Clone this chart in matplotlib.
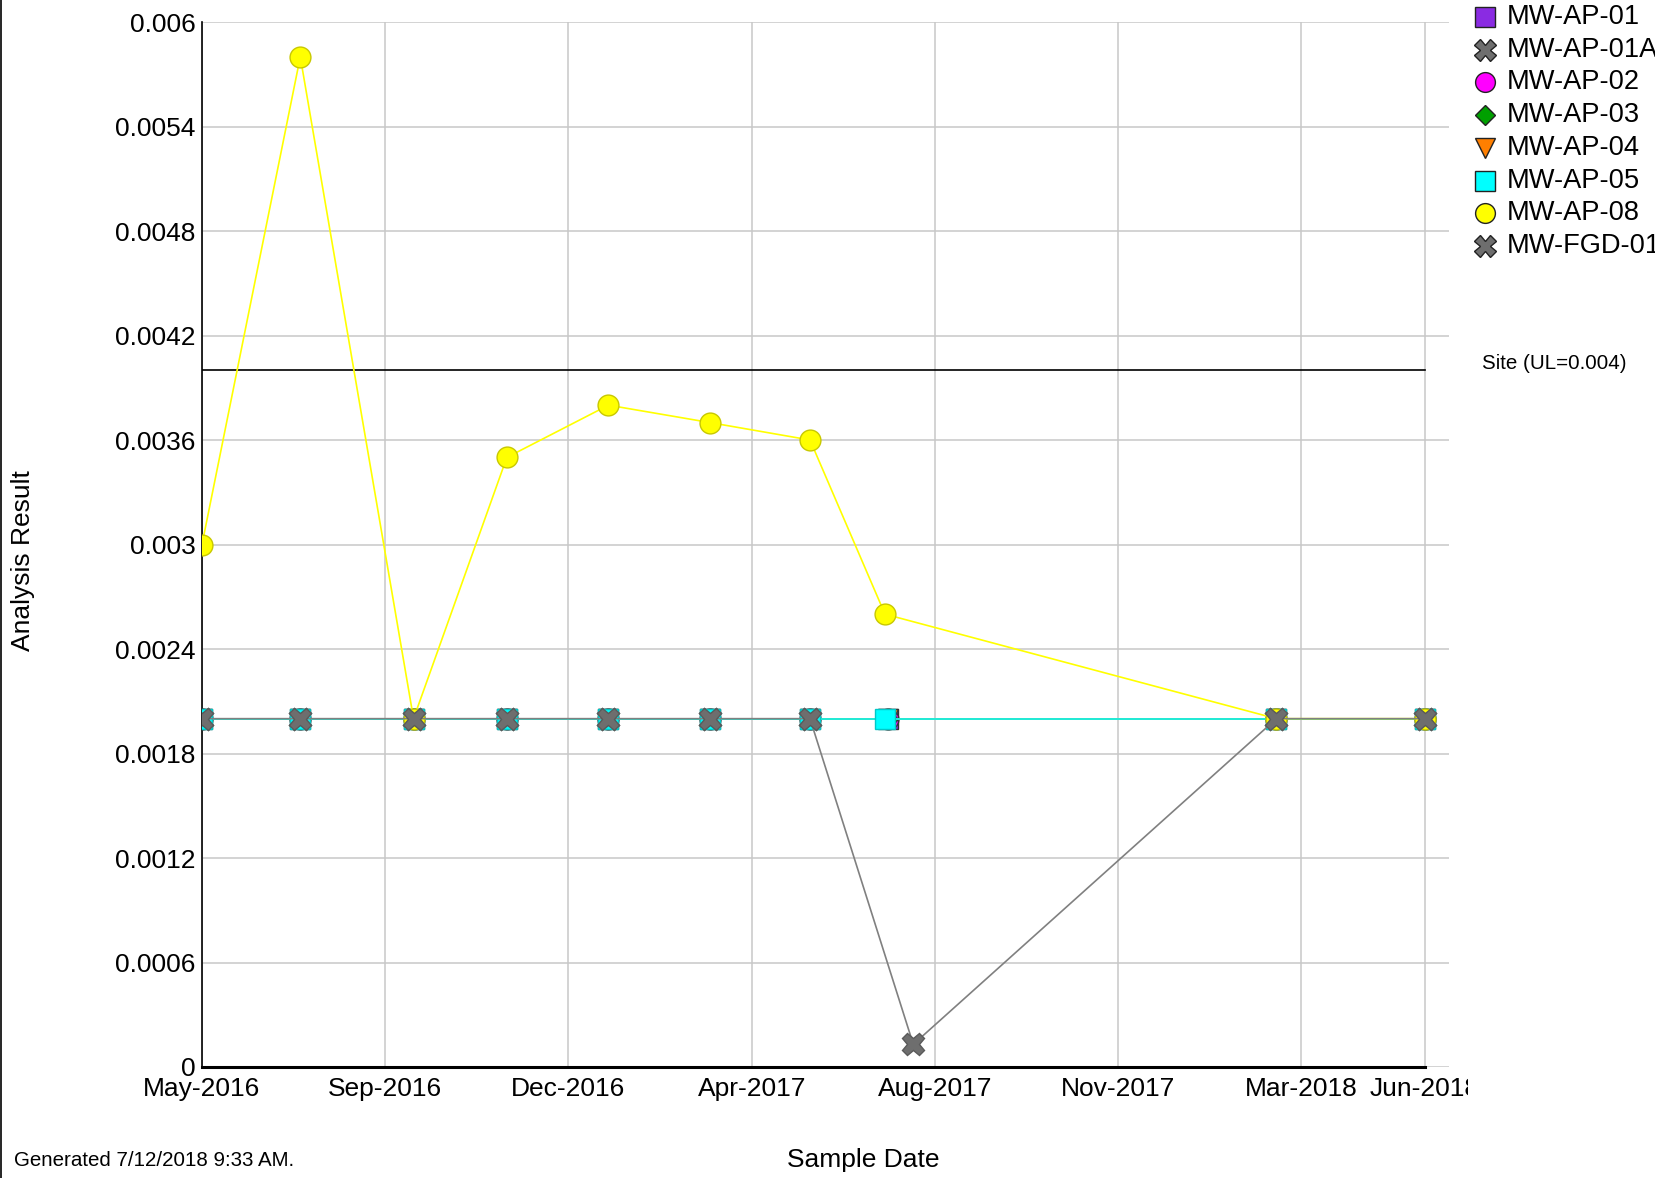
import numpy as np
import matplotlib
matplotlib.use("Agg")
import matplotlib.pyplot as plt
import matplotlib.dates as mdates
from matplotlib.lines import Line2D
from matplotlib.transforms import Bbox, TransformedBbox

plt.rcParams['font.family'] = ['Liberation Sans', 'DejaVu Sans']

# sample dates
d_all = ['2016-05-20', '2016-07-18', '2016-09-24', '2016-11-19', '2017-01-19',
         '2017-03-21', '2017-05-20', '2018-02-24', '2018-05-24']
d_ap = d_all[:7] + ['2017-07-06'] + d_all[7:]
d_ap05 = d_all[:7] + ['2017-07-04'] + d_all[7:]
d_ap08 = d_all[:7] + ['2017-07-04'] + d_all[7:]
d_fgd = d_all[:7] + ['2017-07-21'] + d_all[7:]

# results
v_ap = [0.002] * 10
v_ap01a = [0.002] * 9
v_ap08 = [0.003, 0.0058, 0.002, 0.0035, 0.0038, 0.0037, 0.0036, 0.0026, 0.002, 0.002]
v_fgd = [0.002, 0.002, 0.002, 0.002, 0.002, 0.002, 0.002, 0.00013, 0.002, 0.002]

series_names = ['MW-AP-01', 'MW-AP-01A', 'MW-AP-02', 'MW-AP-03', 'MW-AP-04',
                'MW-AP-05', 'MW-AP-08', 'MW-FGD-01']
series_dates = [d_ap, d_all, d_ap, d_ap, d_ap, d_ap05, d_ap08, d_fgd]
series_vals = [v_ap, v_ap01a, v_ap, v_ap, v_ap, v_ap, v_ap08, v_fgd]
colors = ['#8a2be2', '#6e6e6e', '#ff00ff', '#00a000', '#ff7f00', '#00ffff', '#ffff00', '#6e6e6e']
markers = ['s', 'X', 'o', 'D', 'v', 's', 'o', 'X']
msizes = [15, 16, 15, 10.5, 15, 15, 15, 16]

limit_value = 0.004
limit_label = 'Site (UL=0.004)'

yticks = [0, 0.0006, 0.0012, 0.0018, 0.0024, 0.003, 0.0036, 0.0042, 0.0048, 0.0054, 0.006]
ytick_labels = ['0', '0.0006', '0.0012', '0.0018', '0.0024', '0.003', '0.0036',
                '0.0042', '0.0048', '0.0054', '0.006']
xtick_dates = ['2016-05-20', '2016-09-07', '2016-12-26', '2017-04-15', '2017-08-03',
               '2017-11-21', '2018-03-11', '2018-05-24']
xtick_labels = ['May-2016', 'Sep-2016', 'Dec-2016', 'Apr-2017', 'Aug-2017',
                'Nov-2017', 'Mar-2018', 'Jun-2018']

W, H = 1656, 1178
fig = plt.figure(figsize=(W / 100, H / 100), dpi=100)
ax = fig.add_axes([202 / W, 1 - 1067 / H, (1449 - 202) / W, (1067 - 22) / H])

start = mdates.datestr2num(d_all[0])
end = mdates.datestr2num(d_all[-1])

for name, dts, vals, c, m, ms in zip(series_names, series_dates, series_vals,
                                     colors, markers, msizes):
    x = mdates.datestr2num(dts)
    if c == '#6e6e6e':
        ec = '#5a5a5a'
    elif c == '#ffff00':
        ec = '#c8c800'
    elif c == '#00ffff':
        ec = '#00c8c8'
    else:
        ec = '#333333'
    ax.plot(x, vals, color=c if c != '#6e6e6e' else '#808080', lw=1.2,
            marker=m, markersize=ms, markerfacecolor=c, markeredgecolor=ec,
            markeredgewidth=1.0, zorder=3)

ax.plot([start, end], [limit_value, limit_value], color='black', lw=1.2, zorder=2)
fig.text(1482 / W, 1 - 363 / H, limit_label, fontsize=14.8, va='center', ha='left')

ax.set_xlim(start, start + 748.6)
ax.set_ylim(0, 0.006)
ax.set_yticks(yticks)
ax.set_yticklabels(ytick_labels)
ax.set_xticks(mdates.datestr2num(xtick_dates))
ax.set_xticklabels(xtick_labels)
ax.tick_params(axis='both', length=0, labelsize=19)
ax.tick_params(axis='y', pad=4.5)
ax.tick_params(axis='x', pad=7)
ax.grid(True, color='#c8c8c8', lw=1.1, zorder=0)
ax.set_axisbelow(True)
for s in ['top', 'right']:
    ax.spines[s].set_visible(False)
ax.spines['left'].set_linewidth(1.2)
ax.spines['bottom'].set_linewidth(2.2)
ax.spines['bottom'].set_bounds(start, end)

# last tick label is cut off
clip = TransformedBbox(Bbox([[0, 0], [1468 / W, 1]]), fig.transFigure)
last = ax.get_xticklabels()[-1]
last.set_clip_box(clip)
last.set_clip_on(True)

# legend drawn by hand
for i, (name, c, m, ms) in enumerate(zip(series_names, colors, markers, msizes)):
    y = 1 - (17 + i * 32.7) / H
    ec = '#222222'
    fig.add_artist(Line2D([1485 / W], [y], transform=fig.transFigure, marker=m,
                          markersize=ms * 0.95, markerfacecolor=c,
                          markeredgecolor=ec, markeredgewidth=1.0, linestyle='none'))
    fig.text(1507 / W, y, name, fontsize=19.6, va='center', ha='left')

fig.text(23 / W, 1 - 561 / H, 'Analysis Result', fontsize=19, rotation=90,
         va='center', ha='center')
fig.text(863 / W, 1 - 1160 / H, 'Sample Date', fontsize=19, va='center', ha='center')
fig.text(14 / W, 1 - 1160 / H, 'Generated 7/12/2018 9:33 AM.', fontsize=14.8,
         va='center', ha='left')
fig.add_artist(Line2D([0.0006, 0.0006], [0, 1], transform=fig.transFigure,
                      color='black', lw=1.2))

fig.savefig('out.png', dpi=100)
